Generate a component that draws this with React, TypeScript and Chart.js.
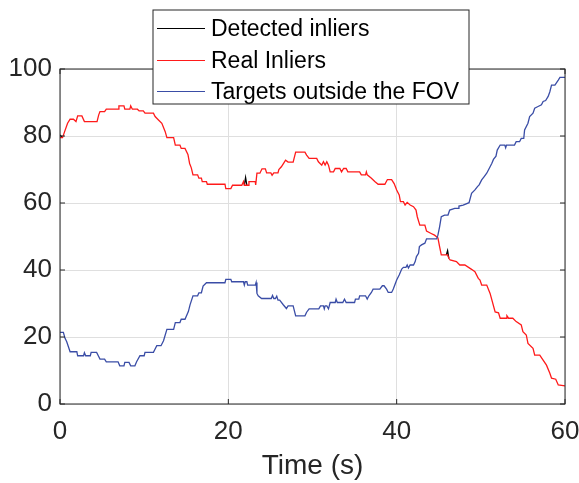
import React, { useEffect, useRef } from "react";
import { Chart, registerables } from "chart.js";

Chart.register(...registerables);

const FONT = '"Liberation Sans", Arial, Helvetica, sans-serif';
const AXIS_COLOR = "#262626";
const GRID_COLOR = "#dfdfdf";

const seriesLabels = ["Detected inliers", "Real Inliers", "Targets outside the FOV"];
const seriesColors = ["#000000", "#ff1a1a", "#3a4da6"];

const xTicks = [0, 20, 40, 60];
const yTicks = [0, 20, 40, 60, 80, 100];
const xTitle = "Time (s)";

// Sample times (s) shared by the detected and real inlier counts
const inlierTime = [
  0, 0.3, 0.55, 0.9, 1.2, 1.6, 1.9, 2.1, 2.6, 2.9,
  4.4, 4.6, 4.75, 5.3, 5.5, 6.9, 7.0, 7.6, 7.7, 8.3,
  8.4, 8.6, 9.2, 9.4, 9.9, 10.1, 11.1, 11.3, 11.7, 12.1,
  12.5, 12.7, 13.5, 13.7, 14.25, 14.4, 14.85, 15.2, 15.4, 15.6,
  15.8, 16.35, 16.5, 16.8, 16.9, 17.4, 17.5, 19.6, 19.7, 20.3,
  20.5, 21.6, 21.8, 21.9, 22.05, 22.2, 22.4, 22.45, 23.2, 23.25,
  23.4, 23.75, 24.0, 24.4, 24.55, 25.05, 25.2, 25.4, 25.9, 26.0,
  26.3, 26.6, 26.8, 27.1, 27.7, 28.0, 29.1, 29.3, 29.6, 30.5,
  30.7, 31.1, 31.3, 31.5, 31.7, 31.9, 32.1, 32.5, 32.7, 33.25,
  33.45, 33.7, 34.0, 34.2, 35.6, 35.8, 36.3, 36.4, 36.5, 37.0,
  37.4, 37.8, 38.6, 38.9, 39.4, 39.7, 40.0, 40.3, 40.45, 40.8,
  41.0, 41.25, 41.6, 42.0, 42.3, 42.45, 42.75, 43.35, 43.55, 44.1,
  44.5, 44.9, 45.1, 45.3, 45.9, 46.05, 46.2, 46.35, 47.1, 47.5,
  48.1, 48.9, 49.3, 49.7, 49.9, 50.1, 50.7, 51.1, 51.7, 52.1,
  52.3, 53.0, 53.1, 53.3, 53.8, 54.2, 54.8, 55.0, 55.4, 55.6,
  56.2, 56.4, 57.0, 57.4, 57.8, 58.2, 58.4, 58.9, 59.2, 60,
];

const detectedInliers = [
  80.3, 79.5, 81.3, 83.8, 85, 85, 84.3, 86, 86, 84.3,
  84.3, 86.3, 87.3, 87.3, 88, 88, 89, 89, 88, 88,
  89, 88, 88, 87.5, 87.5, 86.8, 86.8, 85.8, 84.8, 83.8,
  81.3, 79.5, 79.5, 77.3, 77.3, 76.3, 76.3, 74.5, 71.8, 70.5,
  68.4, 68.4, 67.4, 67.4, 66.4, 66.4, 65.6, 65.6, 64.3, 64.3,
  65.3, 65.3, 66.4, 65.3, 67.6, 65.3, 65.3, 66.4, 66.4, 65.4,
  68.9, 68.9, 70.2, 70.2, 69, 69, 68.3, 69, 69, 70,
  70.8, 72, 72.8, 72.2, 72.2, 75.2, 75.2, 74.3, 73.3, 73.3,
  72.3, 71.3, 72.3, 71.3, 72.3, 71.3, 69.3, 69.3, 70.3, 70.3,
  69.3, 70.3, 70.3, 69.3, 69.3, 68.4, 68.4, 69.3, 68.4, 67.4,
  66.4, 65.6, 65.6, 67, 67, 65.8, 63.9, 62.4, 60.4, 60.4,
  59.4, 60.2, 59.4, 58.9, 57.9, 55.9, 53.4, 53.4, 51.6, 50.9,
  50.4, 49.6, 47, 44.5, 44.5, 45.8, 43.5, 43, 42.5, 41.5,
  41.5, 40.2, 39.5, 37.5, 37, 35.5, 35.5, 33, 27.5, 27.2,
  25.6, 25.6, 26.3, 25.6, 25.6, 24.6, 23.6, 21.6, 20.6, 18.1,
  16.6, 14.6, 14.6, 13.1, 11.6, 9.2, 7.7, 7.4, 5.7, 5.4,
];

const realInliers = [
  79.5, 79.5, 81.3, 83.8, 85, 85, 84.3, 86, 86, 84.3,
  84.3, 86.3, 87.3, 87.3, 88, 88, 89, 89, 88, 88,
  89, 88, 88, 87.5, 87.5, 86.8, 86.8, 85.8, 84.8, 83.8,
  81.3, 79.5, 79.5, 77.3, 77.3, 76.3, 76.3, 74.5, 71.8, 70.5,
  68.4, 68.4, 67.4, 67.4, 66.4, 66.4, 65.6, 65.6, 64.3, 64.3,
  65.3, 65.3, 66.4, 65.3, 65.3, 65.3, 65.3, 66.4, 66.4, 65.4,
  68.9, 68.9, 70.2, 70.2, 69, 69, 68.3, 69, 69, 70,
  70.8, 72, 72.8, 72.2, 72.2, 75.2, 75.2, 74.3, 73.3, 73.3,
  72.3, 71.3, 72.3, 71.3, 72.3, 71.3, 69.3, 69.3, 70.3, 70.3,
  69.3, 70.3, 70.3, 69.3, 69.3, 68.4, 68.4, 69.3, 68.4, 67.4,
  66.4, 65.6, 65.6, 67, 67, 65.8, 63.9, 62.4, 60.4, 60.4,
  59.4, 60.2, 59.4, 58.9, 57.9, 55.9, 53.4, 53.4, 51.6, 50.9,
  50.4, 49.6, 47, 44.5, 44.5, 44.5, 43.5, 43, 42.5, 41.5,
  41.5, 40.2, 39.5, 37.5, 37, 35.5, 35.5, 33, 27.5, 27.2,
  25.6, 25.6, 26.3, 25.6, 25.6, 24.6, 23.6, 21.6, 20.6, 18.1,
  16.6, 14.6, 14.6, 13.1, 11.6, 9.2, 7.7, 7.4, 5.7, 5.4,
];

// Sample times (s) and counts for targets leaving the field of view
const outsideTime = [
  0, 0.4, 0.6, 0.8, 1.2, 2.0, 2.1, 2.8, 2.9, 3.05,
  3.6, 3.7, 4.35, 4.55, 4.75, 5.3, 5.5, 6.9, 7.1, 7.6,
  7.7, 8.2, 8.4, 8.9, 9.1, 9.5, 10.0, 10.1, 11.1, 11.3,
  11.5, 12.0, 12.3, 12.7, 13.5, 13.7, 14.25, 14.4, 14.85, 15.25,
  15.45, 15.8, 16.35, 16.5, 16.8, 17.0, 17.4, 19.6, 19.7, 20.3,
  20.4, 21.8, 21.9, 22.0, 22.2, 22.3, 23.2, 23.3, 23.4, 23.55,
  23.95, 25.1, 25.25, 25.4, 25.6, 25.75, 25.9, 26.1, 26.5, 26.9,
  27.1, 27.7, 28.0, 29.1, 29.3, 29.6, 30.75, 30.95, 31.3, 31.4,
  31.5, 31.7, 31.9, 32.1, 32.7, 32.8, 32.95, 33.6, 33.8, 34.0,
  35.0, 35.1, 35.5, 35.6, 36.3, 36.5, 36.7, 37.0, 37.2, 38.0,
  38.3, 38.5, 38.8, 39.0, 39.4, 39.6, 40.0, 40.3, 40.6, 40.8,
  41.1, 41.25, 41.4, 41.6, 42.0, 42.2, 42.35, 42.6, 42.7, 42.95,
  43.35, 43.55, 44.75, 44.9, 45.1, 45.3, 45.7, 46.1, 46.3, 46.9,
  47.3, 47.4, 47.9, 48.6, 48.9, 49.3, 49.6, 49.8, 50.1, 50.4,
  50.7, 51.1, 51.3, 51.5, 51.8, 51.95, 52.3, 52.85, 52.95, 53.05,
  54.0, 54.2, 54.6, 54.8, 55.1, 55.2, 55.6, 55.8, 56.2, 56.4,
  56.8, 57.2, 57.4, 57.7, 58.0, 58.2, 58.4, 58.8, 59.2, 59.4, 60,
];

const outsideFov = [
  21.4, 21.4, 19.6, 18.6, 15.6, 15.6, 14.4, 14.4, 15.3, 14.4,
  14.4, 15.4, 15.4, 14.4, 13.4, 13.4, 12.6, 12.6, 11.4, 11.4,
  12.4, 12.4, 11.4, 11.4, 12.6, 14.4, 14.4, 15.4, 15.4, 16.4,
  17.4, 17.4, 18.9, 22.3, 22.3, 24.3, 24.3, 25.3, 25.3, 27.6,
  29.6, 32.3, 32.3, 33.2, 33.2, 35.2, 36.2, 36.2, 37.2, 37.2,
  36.5, 36.5, 35.5, 36.5, 36.5, 35.5, 35.5, 36.3, 33, 32.3,
  31.5, 31.5, 32.4, 31.5, 31.5, 32.2, 31, 31, 29.7, 28.5,
  29.3, 29.3, 26.3, 26.3, 27.4, 28.4, 28.4, 29.3, 29.3, 28.4,
  29.3, 29.3, 28.4, 30.3, 30.3, 31.3, 30.3, 30.3, 31.3, 30.3,
  30.3, 31.3, 31.3, 32.3, 32.3, 31.3, 32.3, 33.3, 34.3, 34.3,
  35.3, 35.3, 34.3, 33.3, 33.3, 34.3, 37, 38.5, 40.3, 40.8,
  40.8, 41.5, 40.6, 41.5, 41.5, 42.5, 44, 45, 47, 47.5,
  48, 49.3, 49.3, 50.4, 52.9, 55.9, 56.4, 56.4, 57.9, 58.4,
  58.4, 59.1, 59.4, 60.1, 62.9, 63.9, 64.9, 65.4, 66.9, 67.9,
  68.9, 70.8, 71.8, 73, 74, 75.8, 77.3, 77.3, 76.5, 77.3,
  77.3, 78.3, 78.3, 79.3, 79.3, 81.8, 83.8, 85.8, 86.8, 88.3,
  88.8, 89.3, 90.3, 90.6, 91.8, 93.2, 95.2, 95.2, 96.7, 97.5, 97.5,
];

const toPoints = (xs: number[], ys: number[]) => xs.map((x, i) => ({ x, y: ys[i] }));

// Where the detected count coincides with the real count, the red trace
// sits on top of it; skip stroking those segments so no dark fringe shows.
const detectedSegmentColor = (c: any) => {
  const a = c.p0DataIndex;
  const b = c.p1DataIndex;
  const same = detectedInliers[a] === realInliers[a] && detectedInliers[b] === realInliers[b];
  return same ? "rgba(0,0,0,0)" : seriesColors[0];
};

// Axes box with inward tick marks on all four sides
const framePlugin = {
  id: "axesFrame",
  afterDatasetsDraw(chart: any) {
    const { ctx, chartArea: a, scales } = chart;
    const tickLen = 5;
    ctx.save();
    ctx.strokeStyle = AXIS_COLOR;
    ctx.lineWidth = 1;
    ctx.strokeRect(a.left, a.top, a.right - a.left, a.bottom - a.top);
    ctx.beginPath();
    xTicks.forEach((v) => {
      const px = scales.x.getPixelForValue(v);
      ctx.moveTo(px, a.bottom);
      ctx.lineTo(px, a.bottom - tickLen);
      ctx.moveTo(px, a.top);
      ctx.lineTo(px, a.top + tickLen);
    });
    yTicks.forEach((v) => {
      const py = scales.y.getPixelForValue(v);
      ctx.moveTo(a.left, py);
      ctx.lineTo(a.left + tickLen, py);
      ctx.moveTo(a.right, py);
      ctx.lineTo(a.right - tickLen, py);
    });
    ctx.stroke();
    ctx.restore();
  },
};

// Boxed legend overlapping the top of the axes
const legendPlugin = {
  id: "boxedLegend",
  afterDraw(chart: any) {
    const { ctx } = chart;
    const box = { left: 153, top: 10, right: 469, bottom: 104 };
    const rows = [28.5, 60.5, 91.5];
    ctx.save();
    ctx.fillStyle = "#ffffff";
    ctx.fillRect(box.left, box.top, box.right - box.left, box.bottom - box.top);
    ctx.strokeStyle = AXIS_COLOR;
    ctx.lineWidth = 1;
    ctx.strokeRect(box.left, box.top, box.right - box.left, box.bottom - box.top);
    ctx.font = `23px ${FONT}`;
    ctx.textBaseline = "middle";
    ctx.textAlign = "left";
    chart.data.datasets.forEach((ds: any, i: number) => {
      const y = rows[i];
      ctx.strokeStyle = seriesColors[i];
      ctx.lineWidth = 1;
      ctx.beginPath();
      ctx.moveTo(157, y);
      ctx.lineTo(205, y);
      ctx.stroke();
      ctx.fillStyle = "#000000";
      ctx.fillText(ds.label, 211, y + 1);
    });
    ctx.restore();
  },
};

export default function App() {
  const canvasRef = useRef<HTMLCanvasElement>(null);

  useEffect(() => {
    document.body.style.margin = "0";
    const canvas = canvasRef.current;
    if (!canvas) return;

    const chart = new Chart(canvas, {
      type: "line",
      data: {
        datasets: [
          {
            label: seriesLabels[0],
            data: toPoints(inlierTime, detectedInliers),
            borderColor: seriesColors[0],
            segment: { borderColor: detectedSegmentColor },
            order: 2,
          },
          {
            label: seriesLabels[1],
            data: toPoints(inlierTime, realInliers),
            borderColor: seriesColors[1],
            order: 1,
          },
          {
            label: seriesLabels[2],
            data: toPoints(outsideTime, outsideFov),
            borderColor: seriesColors[2],
            order: 0,
          },
        ],
      },
      options: {
        responsive: false,
        animation: false,
        devicePixelRatio: 1,
        events: [],
        layout: { padding: { top: 69, right: 14, left: 0, bottom: 0 } },
        elements: {
          point: { radius: 0 },
          line: { borderWidth: 1.3, tension: 0, fill: false },
        },
        plugins: {
          legend: { display: false },
          tooltip: { enabled: false },
        },
        scales: {
          x: {
            type: "linear",
            min: 0,
            max: 60,
            afterBuildTicks: (s: any) => {
              s.ticks = xTicks.map((value) => ({ value }));
            },
            afterFit: (s: any) => {
              s.height = 79;
              s.paddingLeft = 0;
              s.paddingRight = 0;
            },
            grid: { color: GRID_COLOR, drawTicks: false, lineWidth: 1 },
            border: { display: false },
            ticks: {
              color: AXIS_COLOR,
              font: { family: FONT, size: 26 },
              padding: 12,
              maxRotation: 0,
              autoSkip: false,
            },
            title: {
              display: true,
              text: xTitle,
              color: AXIS_COLOR,
              font: { family: FONT, size: 28 },
              padding: { top: 0, bottom: 0 },
            },
          },
          y: {
            type: "linear",
            min: 0,
            max: 100,
            afterBuildTicks: (s: any) => {
              s.ticks = yTicks.map((value) => ({ value }));
            },
            afterFit: (s: any) => {
              s.width = 60;
              s.paddingTop = 0;
              s.paddingBottom = 0;
            },
            grid: { color: GRID_COLOR, drawTicks: false, lineWidth: 1 },
            border: { display: false },
            ticks: {
              color: AXIS_COLOR,
              font: { family: FONT, size: 26 },
              padding: 8,
              autoSkip: false,
            },
          },
        },
      },
      plugins: [framePlugin, legendPlugin],
    });

    return () => chart.destroy();
  }, []);

  return (
    <div style={{ width: 579, height: 483, position: "relative" }}>
      <canvas ref={canvasRef} width={579} height={483} style={{ display: "block" }} />
    </div>
  );
}
